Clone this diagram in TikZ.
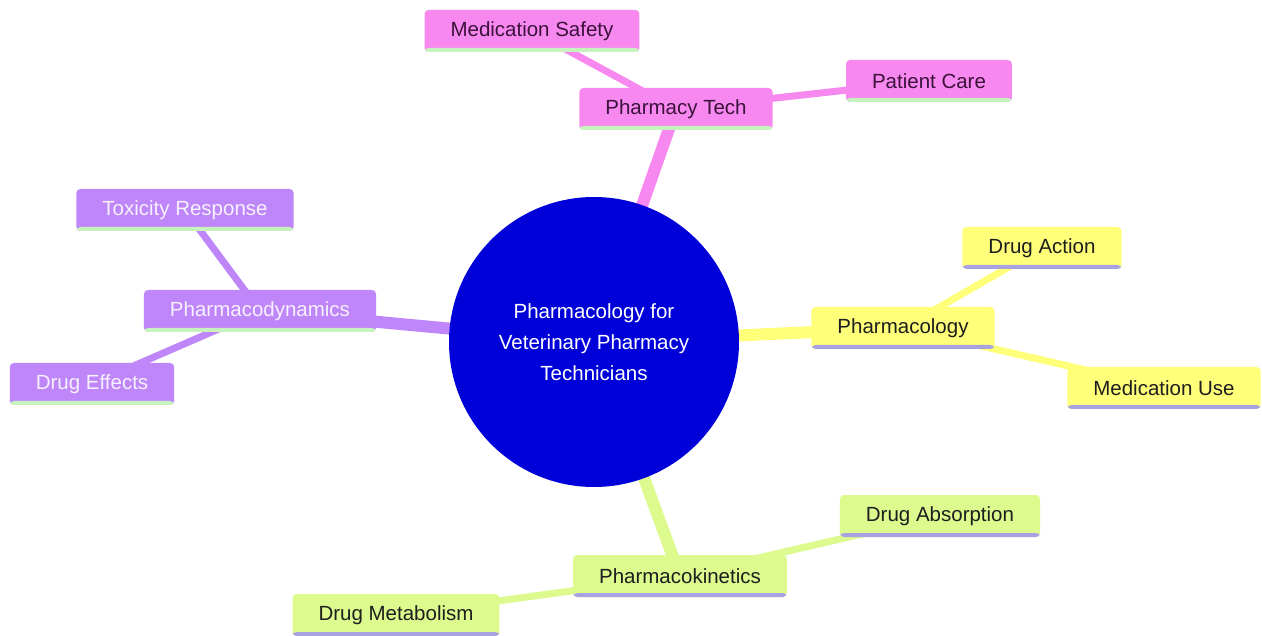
\documentclass[tikz,border=0pt]{standalone}
\usepackage{fontspec}
\setmainfont{Liberation Sans}
\usetikzlibrary{backgrounds}

\definecolor{rootblue}{HTML}{0000D8}
\definecolor{techpink}{HTML}{F788F0}
\definecolor{techtext}{HTML}{3A123A}
\definecolor{dynpurple}{HTML}{BE86F8}
\definecolor{dyntext}{HTML}{F6F0FF}
\definecolor{logyellow}{HTML}{FFFF7A}
\definecolor{kinegreen}{HTML}{DCFA8E}
\definecolor{darktext}{HTML}{1E1E1E}
\definecolor{stripgreen}{HTML}{C6F2BE}
\definecolor{striplav}{HTML}{A8A2E0}

\begin{document}
\begin{tikzpicture}[x=1pt,y=-1pt,
    box/.style={rectangle, rounded corners=4pt, minimum height=42pt,
      inner xsep=26pt, font=\fontsize{20.5}{24}\selectfont},
    strip/.style={path picture={\fill[#1] (path picture bounding box.south west)
      rectangle ([yshift=4pt]path picture bounding box.south east);}},
    techbox/.style={box, fill=techpink, text=techtext, strip=stripgreen},
    dynbox/.style={box, fill=dynpurple, text=dyntext, strip=stripgreen},
    logbox/.style={box, fill=logyellow, text=darktext, strip=striplav},
    kinebox/.style={box, fill=kinegreen, text=darktext, strip=striplav},
    mainedge/.style={line width=12pt},
    subedge/.style={line width=7pt}]
  \useasboundingbox (0,0) rectangle (1262,636);

  % centre
  \node[circle, fill=rootblue, minimum size=290pt, inner sep=0pt, text=white,
    align=center, font=\fontsize{20.5}{31}\selectfont] (root) at (594,342)
    {Pharmacology for\\Veterinary Pharmacy\\Technicians};

  % pharmacy tech
  \node[techbox] (tech) at (676,109) {Pharmacy Tech};
  \node[techbox] (safety) at (532,31) {Medication Safety};
  \node[techbox] (care) at (929,81) {Patient Care};

  % pharmacodynamics
  \node[dynbox] (dyn) at (260,311) {Pharmacodynamics};
  \node[dynbox] (tox) at (185,210) {Toxicity Response};
  \node[dynbox] (effects) at (92,384) {Drug Effects};

  % pharmacology
  \node[logbox] (logy) at (903,328) {Pharmacology};
  \node[logbox] (action) at (1042,248) {Drug Action};
  \node[logbox] (use) at (1164,388) {Medication Use};

  % pharmacokinetics
  \node[kinebox] (kine) at (680,576) {Pharmacokinetics};
  \node[kinebox] (absorb) at (940,516) {Drug Absorption};
  \node[kinebox] (metab) at (396,615) {Drug Metabolism};

  \begin{scope}[on background layer]
    \fill[white] (0,0) rectangle (1262,636);
    \draw[mainedge, techpink] (root.center) -- (tech.center);
    \draw[subedge, techpink] (tech.center) -- (safety.center);
    \draw[subedge, techpink] (tech.center) -- (care.center);
    \draw[mainedge, dynpurple] (root.center) -- (dyn.center);
    \draw[subedge, dynpurple] (dyn.center) -- (tox.center);
    \draw[subedge, dynpurple] (dyn.center) -- (effects.center);
    \draw[mainedge, logyellow] (root.center) -- (logy.center);
    \draw[subedge, logyellow] (logy.center) -- (action.center);
    \draw[subedge, logyellow] (logy.center) -- (use.center);
    \draw[mainedge, kinegreen] (root.center) -- (kine.center);
    \draw[subedge, kinegreen] (kine.center) -- (absorb.center);
    \draw[subedge, kinegreen] (kine.center) -- (metab.center);
  \end{scope}
\end{tikzpicture}
\end{document}
